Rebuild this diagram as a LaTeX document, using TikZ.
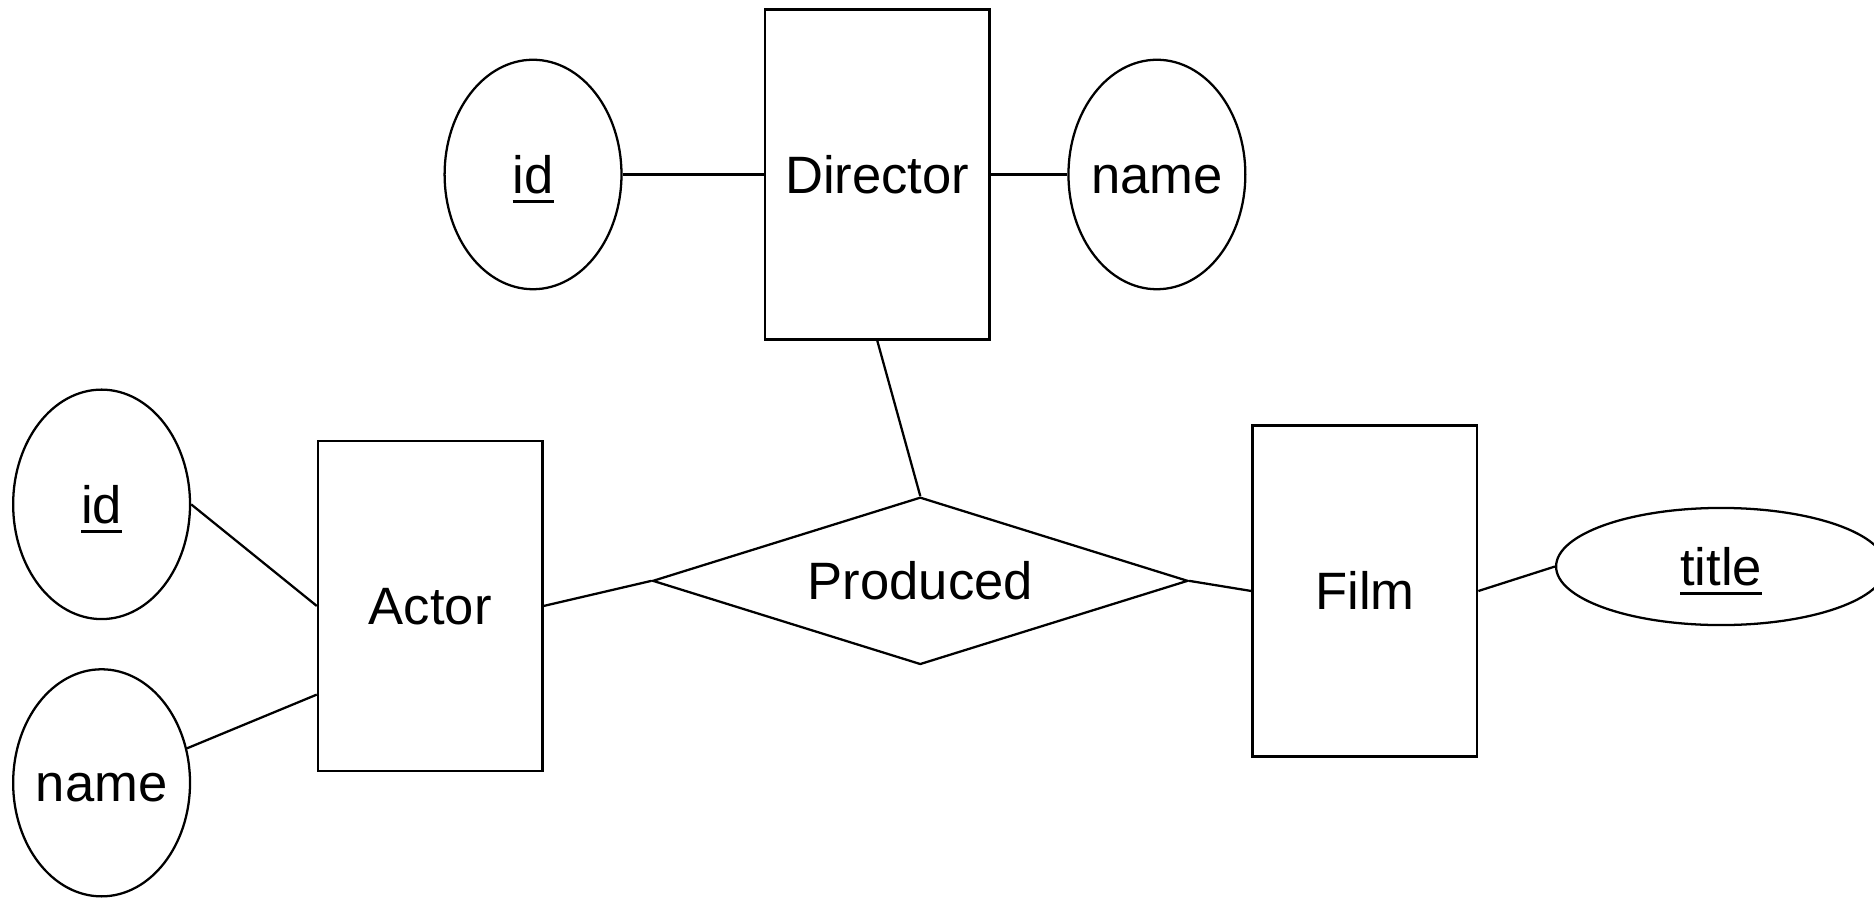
\documentclass[tikz,border=0pt]{standalone}
\usepackage{fontspec}
\setmainfont{Liberation Sans}
\usetikzlibrary{shapes.geometric}
\newcommand\keyul[1]{\setbox0\hbox{#1}\rlap{\rule[-8.5pt]{\wd0}{3pt}}#1}
\tikzset{
  base/.style={draw, line width=1.9pt, inner sep=0pt, font=\fontsize{44}{52}\selectfont, text height=31.5pt, text depth=0pt},
  entity/.style={base, rectangle, minimum width=188pt, minimum height=276pt},
  attr/.style={base, ellipse, inner xsep=-30pt, minimum width=148pt, minimum height=192pt},
  rel/.style={base, diamond, minimum width=448pt, minimum height=140pt, aspect=3.2},
  conn/.style={line width=1.9pt}
}
\begin{document}
\begin{tikzpicture}[x=1pt,y=-1pt]
\useasboundingbox[fill=white] (0,0) rectangle (1568,751);
\node[entity] (director) at (734,146) {Director};
\node[attr] (idtop) at (446,146) {\keyul{id}};
\node[attr] (nametop) at (968,146) {name};
\node[entity] (actor) at (360,507) {Actor};
\node[attr] (idleft) at (85,422) {\keyul{id}};
\node[attr, minimum height=190pt] (nameleft) at (85,655) {name};
\node[rel] (produced) at (770,486) {Produced};
\node[entity, minimum height=277pt] (film) at (1142,494.5) {Film};
\node[attr, minimum width=276pt, minimum height=98pt] (title) at (1440,474) {\keyul{title}};
\draw[conn] (idtop.east) -- (director.west);
\draw[conn] (director.east) -- (nametop.west);
\draw[conn] (idleft.east) -- (actor.west);
\draw[conn] (nameleft.22) -- (actor.218);
\draw[conn] (actor.east) -- (produced.west);
\draw[conn] (produced.north) -- (director.south);
\draw[conn] (produced.east) -- (film.west);
\draw[conn] (film.east) -- (title.west);
\end{tikzpicture}
\end{document}
